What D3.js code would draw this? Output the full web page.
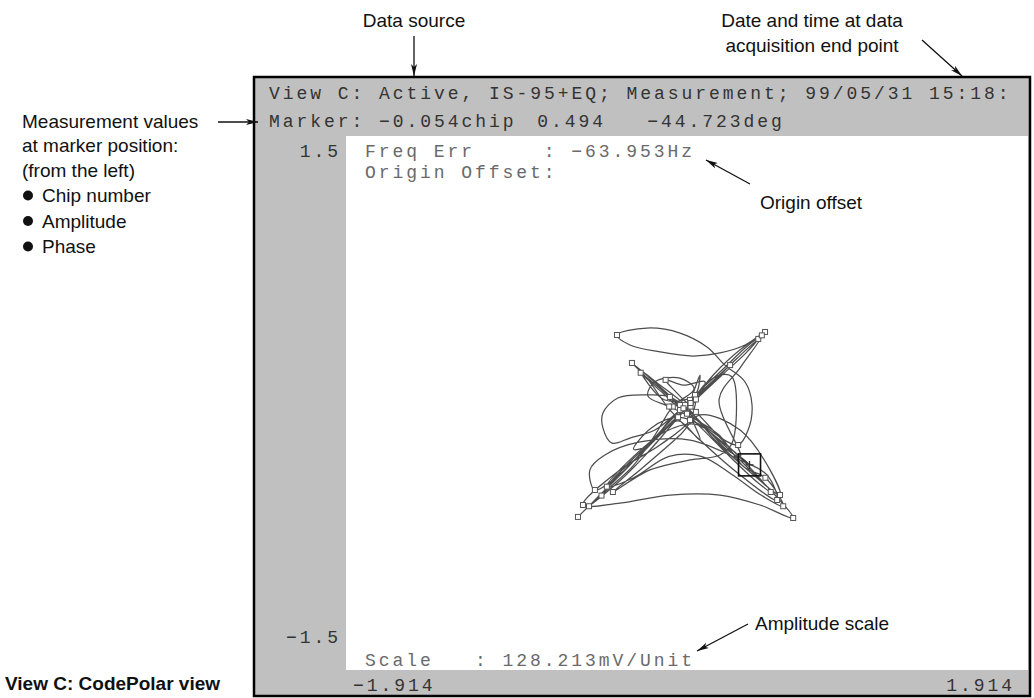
<!DOCTYPE html>
<html>
<head>
<meta charset="utf-8">
<script src="https://cdn.jsdelivr.net/npm/d3@7"></script>
<style>
body { margin: 0; background: #fff; }
.mono { font-family: "Liberation Mono", "DejaVu Sans Mono", monospace; font-size: 18px; letter-spacing: 2.95px; white-space: pre; }
.note { font-family: "Liberation Sans Narrow", "Arial Narrow", "Liberation Sans", sans-serif; font-size: 19px; fill: #111; }
</style>
</head>
<body>
<div id="chart"></div>
<script>
// header / readout lines of the analyzer screen
var headerLine = 'View C: Active, IS-95+EQ; Measurement; 99/05/31 15:18:';
var markerChip = -0.054, markerAmp = 0.494, markerPhase = -44.723;
var freqErr = -63.953;
var scaleText = '128.213mV/Unit';
var yTicks = [1.5, -1.5];
var xTicks = [-1.914, 1.914];

// code polar trace, I and Q
var traceI = [-0.612, -0.489, -0.320, -0.152, 0.017, 0.185, 0.326, 0.438, 0.326, 0.185,
	0.034, -0.152, -0.320, -0.393, -0.225, -0.039, 0.112, 0.213, 0.326, 0.365,
	0.343, 0.287, 0.129, 0.017, -0.096, -0.225, -0.388, -0.472, -0.472, -0.421,
	-0.320, -0.180, -0.039, 0.101, 0.242, 0.073, -0.096, -0.264, -0.416, -0.517,
	-0.545, -0.461, -0.264, 0.017, 0.298, 0.449, 0.506, 0.298, 0.073, -0.096,
	-0.225, -0.309, -0.208, -0.039, 0.129, 0.326, 0.494, 0.596, 0.410, 0.185,
	-0.096, -0.376, -0.584, -0.376, -0.152, 0.017, 0.073, 0.185, 0.253, 0.253,
	0.185, 0.017, -0.208, -0.416, -0.264, -0.039, 0.073, 0.298, 0.466, 0.522,
	0.354, 0.157, -0.011, -0.152, -0.264, -0.124, 0.045, 0.073, 0.017, 0.073,
	-0.05, -0.20, -0.35, -0.48, -0.40, -0.25, -0.10, 0.05, 0.20, 0.33,
	0.40, 0.28, 0.12, -0.02, -0.14, -0.26, -0.15, 0.00, 0.14, 0.27,
	0.40, 0.47, 0.36, 0.20, 0.05, -0.06, -0.12, -0.02, 0.10, 0.02,
	-0.09, -0.22, -0.30, -0.20, -0.05, 0.10, 0.22, 0.30,
	0.18, 0.30, 0.42, 0.30, 0.15, 0.02, -0.10, -0.24, -0.38, -0.55,
	-0.44, -0.30, -0.18, -0.08, 0.04, -0.04, -0.18, -0.22, -0.10, 0.06,
	0.18, 0.32, 0.44, 0.54, 0.42, 0.25, 0.08, -0.10, -0.30, -0.45,
	-0.30, -0.12, 0.05, 0.20, 0.351];
var traceQ = [-0.640, -0.517, -0.348, -0.163, 0.017, 0.174, 0.309, 0.399, 0.326, 0.281,
	0.264, 0.287, 0.326, 0.382, 0.421, 0.393, 0.315, 0.213, 0.118, -0.011,
	-0.152, -0.236, -0.152, -0.051, 0.034, 0.045, 0.028, -0.056, -0.140, -0.225,
	-0.197, -0.152, -0.039, 0.084, 0.213, 0.045, -0.124, -0.292, -0.433, -0.489,
	-0.376, -0.292, -0.219, -0.208, -0.320, -0.404, -0.545, -0.404, -0.208, -0.039,
	0.140, 0.225, 0.140, -0.011, -0.163, -0.348, -0.517, -0.646, -0.573, -0.517,
	-0.517, -0.562, -0.573, -0.376, -0.236, -0.096, 0.073, 0.157, 0.146, -0.225,
	-0.292, -0.320, -0.376, -0.500, -0.376, -0.180, -0.067, -0.152, -0.376, -0.517,
	-0.388, -0.208, -0.011, 0.101, 0.185, 0.017, 0.045, 0.157, -0.039, -0.208,
	-0.10, -0.22, -0.36, -0.52, -0.41, -0.28, -0.12, 0.02, 0.16, 0.28,
	0.36, 0.25, 0.10, -0.03, 0.06, 0.17, 0.08, -0.06, -0.20, -0.33,
	-0.45, -0.50, -0.37, -0.21, -0.05, 0.06, 0.13, 0.10, 0.12, -0.02,
	-0.09, -0.24, -0.26, -0.14, -0.08, -0.14, -0.26, -0.30,
	0.02, 0.20, 0.38, 0.30, 0.16, 0.00, -0.14, -0.30, -0.44, -0.58,
	-0.48, -0.35, -0.18, -0.02, 0.08, 0.14, 0.12, 0.04, -0.02, -0.10,
	-0.18, -0.36, -0.42, -0.58, -0.52, -0.40, -0.30, -0.30, -0.42, -0.47,
	-0.30, -0.16, -0.12, -0.22, -0.347];
// samples that fall on chip timing (drawn as small squares)
var chipIdx = [0, 4, 7, 13, 21, 24, 32, 34, 39, 46, 51, 53, 57, 62, 65, 73, 79, 82, 86,
	93, 97, 100, 103, 105, 107, 111, 114, 116, 119, 124,
	130, 133, 137, 141, 146, 150, 151, 157];

var W = 1034, H = 698;
var colW = 13.75, glyphW = 10.8;

var svg = d3.select('#chart').append('svg')
	.attr('width', W)
	.attr('height', H);

var x = d3.scaleLinear().domain([xTicks[0], xTicks[1]]).range([346, 1028]);
var y = d3.scaleLinear().domain([yTicks[1], yTicks[0]]).range([670, 136]);

function rightStart(str, edge) {
	return edge - (str.length - 1) * colW - glyphW;
}
function minus(s) {
	return s.replace('-', '\u2212');
}

// screen frame
svg.append('rect')
	.attr('x', 254).attr('y', 77)
	.attr('width', 776).attr('height', 619)
	.attr('fill', '#c0c0c0')
	.attr('stroke', '#000')
	.attr('stroke-width', 2.5);

svg.append('rect')
	.attr('x', x(xTicks[0])).attr('y', y(yTicks[0]))
	.attr('width', x(xTicks[1]) - x(xTicks[0]))
	.attr('height', y(yTicks[1]) - y(yTicks[0]))
	.attr('fill', '#fff');

// header rows
svg.append('text').attr('class', 'mono')
	.attr('x', 269).attr('y', 99)
	.attr('fill', '#333')
	.text(headerLine);

var markerRow = [
	{ col: 0, s: 'Marker:' },
	{ col: 8, s: minus(markerChip.toFixed(3)) + 'chip' },
	{ col: 19.5, s: markerAmp.toFixed(3) },
	{ col: 27.5, s: minus(markerPhase.toFixed(3)) + 'deg' }
];
svg.selectAll('text.mrow')
	.data(markerRow)
	.enter().append('text')
		.attr('class', 'mono mrow')
		.attr('x', function(d){return 269 + d.col * colW;})
		.attr('y', 127)
		.attr('fill', '#333')
		.text(function(d){return d.s;});

// amplitude axis labels
svg.selectAll('text.ylab')
	.data(yTicks)
	.enter().append('text')
		.attr('class', 'mono ylab')
		.attr('x', function(d){return rightStart(d3.format('.1f')(d), 338);})
		.attr('y', function(d){return y(d) + (d > 0 ? 21 : -27);})
		.attr('fill', '#333')
		.text(function(d){return minus(d3.format('.1f')(d));});

svg.selectAll('text.xlab')
	.data(xTicks)
	.enter().append('text')
		.attr('class', 'mono xlab')
		.attr('x', function(d){
			var s = d3.format('.3f')(d);
			return d < 0 ? x(d) + 7 : rightStart(s, x(d) - 16);
		})
		.attr('y', 691)
		.attr('fill', '#333')
		.text(function(d){return minus(d3.format('.3f')(d));});

// readouts inside the plot
var readout = [
	{ row: 157, s: 'Freq Err     : ' + minus(d3.format('.3f')(freqErr)) + 'Hz' },
	{ row: 178, s: 'Origin Offset:' },
	{ row: 666, s: 'Scale   : ' + scaleText }
];
svg.selectAll('text.readout')
	.data(readout)
	.enter().append('text')
		.attr('class', 'mono readout')
		.attr('x', 365)
		.attr('y', function(d){return d.row;})
		.attr('fill', '#6a6a6a')
		.text(function(d){return d.s;});

// trace
var pts = traceI.map(function(d, i){return [d, traceQ[i]];});
var line = d3.line()
	.x(function(d){return x(d[0]);})
	.y(function(d){return y(d[1]);})
	.curve(d3.curveCatmullRom.alpha(0.5));

svg.append('path')
	.datum(pts)
	.attr('d', line)
	.attr('fill', 'none')
	.attr('stroke', '#4d4d4d')
	.attr('stroke-width', 1.25);

svg.selectAll('rect.chip')
	.data(chipIdx)
	.enter().append('rect')
		.attr('class', 'chip')
		.attr('x', function(d){return x(pts[d][0]) - 2.5;})
		.attr('y', function(d){return y(pts[d][1]) - 2.5;})
		.attr('width', 5).attr('height', 5)
		.attr('fill', '#fff')
		.attr('stroke', '#555')
		.attr('stroke-width', 1);

// marker box
var rad = markerPhase * Math.PI / 180;
var mx = x(markerAmp * Math.cos(rad)), my = y(markerAmp * Math.sin(rad));
svg.append('rect')
	.attr('x', mx - 11).attr('y', my - 11)
	.attr('width', 22).attr('height', 22)
	.attr('fill', 'none')
	.attr('stroke', '#111')
	.attr('stroke-width', 1.6);
svg.append('path')
	.attr('d', 'M' + (mx - 4) + ',' + my + 'H' + (mx + 4) + 'M' + mx + ',' + (my - 4) + 'V' + (my + 4) +
		'M' + (mx - 8) + ',' + (my - 7) + 'L' + (mx - 2) + ',' + (my - 2))
	.attr('stroke', '#333')
	.attr('stroke-width', 1.3)
	.attr('fill', 'none');

// callouts around the screen
var defs = svg.append('defs');
defs.append('marker')
	.attr('id', 'arr')
	.attr('viewBox', '0 0 12 6')
	.attr('refX', 12).attr('refY', 3)
	.attr('markerWidth', 12).attr('markerHeight', 6)
	.attr('markerUnits', 'userSpaceOnUse')
	.attr('orient', 'auto')
	.append('path')
		.attr('d', 'M0,0L12,3L0,6L3,3Z')
		.attr('fill', '#111');

var arrows = [
	[414, 36, 414, 76],
	[922, 40, 962, 76],
	[218, 122, 258, 122],
	[750, 184, 706, 160],
	[748, 624, 697, 651]
];
svg.selectAll('line.arrow')
	.data(arrows)
	.enter().append('line')
		.attr('class', 'arrow')
		.attr('x1', function(d){return d[0];})
		.attr('y1', function(d){return d[1];})
		.attr('x2', function(d){return d[2];})
		.attr('y2', function(d){return d[3];})
		.attr('stroke', '#111')
		.attr('stroke-width', 1.3)
		.attr('marker-end', 'url(#arr)');

var notes = [
	{ x: 414, y: 27, a: 'middle', s: 'Data source' },
	{ x: 812, y: 27, a: 'middle', s: 'Date and time at data' },
	{ x: 812, y: 52, a: 'middle', s: 'acquisition end point' },
	{ x: 760, y: 209, a: 'start', s: 'Origin offset' },
	{ x: 755, y: 630, a: 'start', s: 'Amplitude scale' },
	{ x: 22, y: 128, a: 'start', s: 'Measurement values' },
	{ x: 22, y: 152, a: 'start', s: 'at marker position:' },
	{ x: 22, y: 177, a: 'start', s: '(from the left)' }
];
svg.selectAll('text.note')
	.data(notes)
	.enter().append('text')
		.attr('class', 'note')
		.attr('x', function(d){return d.x;})
		.attr('y', function(d){return d.y;})
		.attr('text-anchor', function(d){return d.a;})
		.text(function(d){return d.s;});

var bullets = ['Chip number', 'Amplitude', 'Phase'];
var bl = svg.selectAll('g.bullet')
	.data(bullets)
	.enter().append('g')
		.attr('class', 'bullet')
		.attr('transform', function(d, i){return 'translate(0,' + (202 + i * 25.5) + ')';});
bl.append('circle')
	.attr('cx', 28).attr('cy', -6.5).attr('r', 5)
	.attr('fill', '#111');
bl.append('text')
	.attr('class', 'note')
	.attr('x', 42)
	.text(function(d){return d;});

svg.append('text')
	.attr('class', 'note')
	.attr('x', 5).attr('y', 690)
	.attr('font-weight', 'bold')
	.text('View C: CodePolar view');
</script>
</body>
</html>
